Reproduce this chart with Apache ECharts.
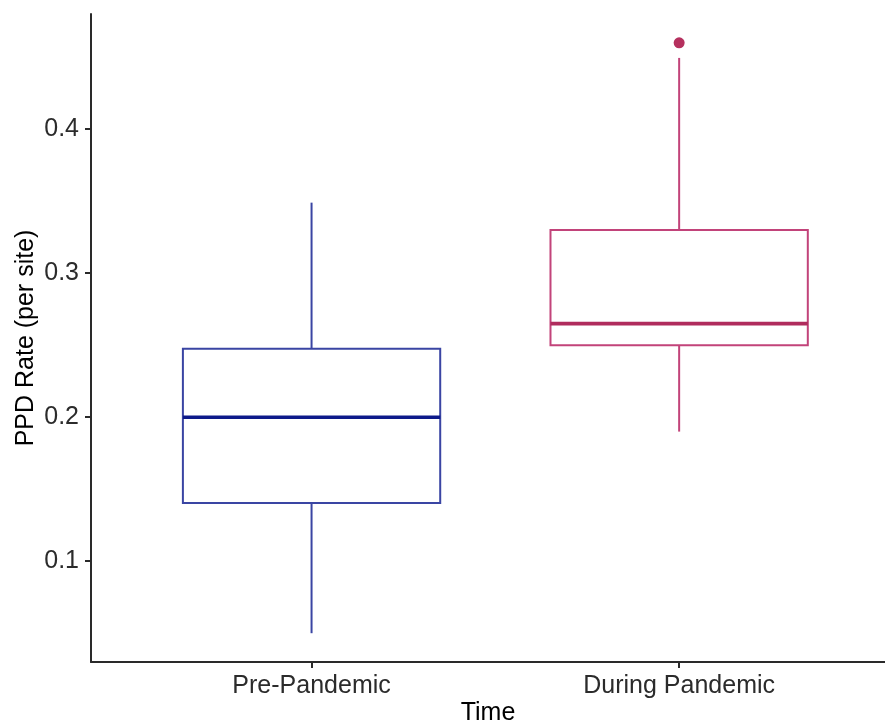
<!DOCTYPE html>
<html>
<head>
<meta charset="utf-8">
<script src="https://cdn.jsdelivr.net/npm/echarts@6/dist/echarts.min.js"></script>
<style>
  html, body { margin: 0; padding: 0; background: #fff; }
  #chart { width: 885px; height: 723px; }
</style>
</head>
<body>
<div id="chart"></div>
<script>
// ---- data ----
const categories = ['Pre-Pandemic', 'During Pandemic'];
const positions = [1, 2];
const lowWhisker = [0.05, 0.19];
const q1 = [0.1405, 0.25];
const median = [0.2, 0.265];
const q3 = [0.2475, 0.33];
const highWhisker = [0.349, 0.4495];
const outliers = [[2, 0.46]];
const yTicks = [0.1, 0.2, 0.3, 0.4];

// ---- styles ----
const boxColors = ['#3a45a3', '#c2437a'];
const medianColors = ['#0d1a8a', '#b02c5d'];
const BOX_WIDTH = 0.7;

const boxData = positions.map((p, i) => [p, lowWhisker[i], q1[i], median[i], q3[i], highWhisker[i]]);

const chart = echarts.init(document.getElementById('chart'));
chart.setOption({
  animation: false,
  backgroundColor: '#fff',
  grid: { left: 91, top: 14, right: 0, bottom: 61, outerBoundsMode: 'none', containLabel: false },
  xAxis: {
    type: 'value',
    min: 0.4,
    max: 2.56,
    name: 'Time',
    nameLocation: 'middle',
    nameGap: 39,
    nameMoveOverlap: false,
    nameTextStyle: { fontFamily: 'Liberation Sans', fontSize: 25, color: '#000' },
    axisLine: { show: true, onZero: false, lineStyle: { color: '#2a2a2a', width: 2 } },
    axisTick: { show: true, length: 6, customValues: positions, lineStyle: { color: '#2a2a2a', width: 2 } },
    axisLabel: {
      customValues: positions,
      margin: 12,
      fontFamily: 'Liberation Sans', fontSize: 25, color: '#2b2b2b',
      formatter: v => categories[positions.indexOf(Math.round(v))] || ''
    },
    splitLine: { show: false }
  },
  yAxis: {
    type: 'value',
    min: 0.03,
    max: 0.48,
    name: 'PPD Rate (per site)',
    nameLocation: 'middle',
    nameGap: 52,
    nameMoveOverlap: false,
    nameTextStyle: { fontFamily: 'Liberation Sans', fontSize: 25, color: '#000' },
    axisLine: { show: true, onZero: false, lineStyle: { color: '#2a2a2a', width: 2 } },
    axisTick: { show: true, length: 6, customValues: yTicks, lineStyle: { color: '#2a2a2a', width: 2 } },
    axisLabel: {
      customValues: yTicks,
      margin: 12,
      fontFamily: 'Liberation Sans', fontSize: 25, color: '#2b2b2b',
      formatter: v => v.toFixed(1)
    },
    splitLine: { show: false }
  },
  series: [
    {
      type: 'custom',
      data: boxData,
      encode: { x: 0, y: [1, 2, 3, 4, 5] },
      renderItem: function (params, api) {
        const i = params.dataIndex;
        const x = api.value(0);
        const pLo = api.coord([x, api.value(1)]);
        const pQ1 = api.coord([x, api.value(2)]);
        const pMed = api.coord([x, api.value(3)]);
        const pQ3 = api.coord([x, api.value(4)]);
        const pHi = api.coord([x, api.value(5)]);
        const hw = api.size([BOX_WIDTH, 0])[0] / 2;
        const c = boxColors[i];
        const mc = medianColors[i];
        return {
          type: 'group',
          children: [
            { type: 'line', shape: { x1: pLo[0], y1: pLo[1], x2: pQ1[0], y2: pQ1[1] }, style: { stroke: c, lineWidth: 2 } },
            { type: 'line', shape: { x1: pQ3[0], y1: pQ3[1], x2: pHi[0], y2: pHi[1] }, style: { stroke: c, lineWidth: 2 } },
            { type: 'rect', shape: { x: pQ3[0] - hw, y: pQ3[1], width: 2 * hw, height: pQ1[1] - pQ3[1] }, style: { stroke: c, fill: '#fff', lineWidth: 2 } },
            { type: 'line', shape: { x1: pMed[0] - hw, y1: pMed[1], x2: pMed[0] + hw, y2: pMed[1] }, style: { stroke: mc, lineWidth: 3.6 } }
          ]
        };
      }
    },
    {
      type: 'scatter',
      data: outliers,
      symbol: 'circle',
      symbolSize: 11,
      itemStyle: { color: '#b5305e', opacity: 1 }
    }
  ]
});
</script>
</body>
</html>
